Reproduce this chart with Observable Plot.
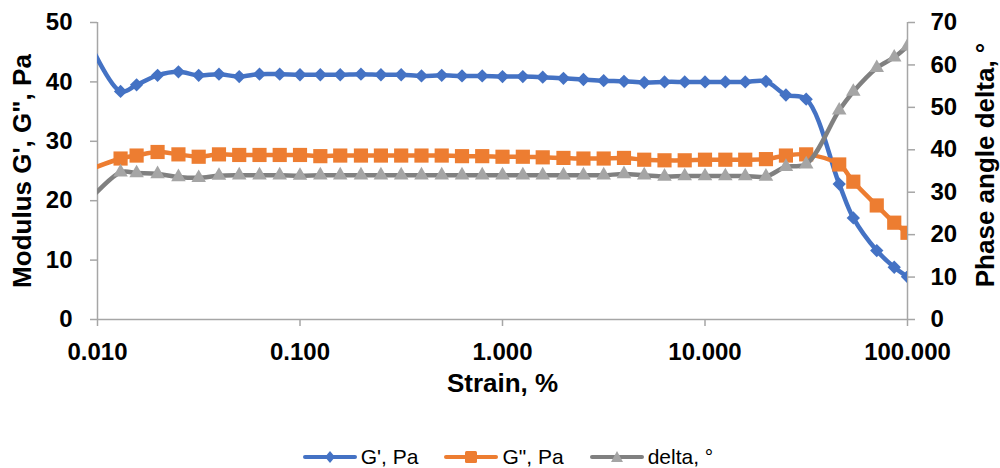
<!DOCTYPE html>
<html>
<head>
<meta charset="utf-8">
<script src="https://cdn.jsdelivr.net/npm/d3@7"></script>
<script src="https://cdn.jsdelivr.net/npm/@observablehq/plot@0.6"></script>
<style>
  html, body { margin: 0; padding: 0; background: #fff; }
  #chart { width: 1000px; height: 468px; position: relative; font-family: "Liberation Sans", Arial, sans-serif; }
  #legend { display: flex; justify-content: center; align-items: center; gap: 26px; margin-top: 35px; padding-left: 16px; font-size: 21px; color: #000; }
  .item { display: flex; align-items: center; gap: 4px; }
</style>
</head>
<body>
<div id="chart"></div>
<script>
// ---- data ----
const strain = [0.00794, 0.013, 0.0156, 0.0198, 0.0251, 0.0316, 0.0398, 0.0501, 0.0631, 0.0794,
  0.1, 0.126, 0.158, 0.2, 0.251, 0.316, 0.398, 0.501, 0.631, 0.794,
  1.0, 1.26, 1.58, 2.0, 2.51, 3.16, 3.98, 5.01, 6.31, 7.94,
  10.0, 12.6, 15.8, 20.0, 25.1, 31.6, 46.0, 54.0, 70.5, 86.0, 100];
const gPrime = [51.0, 38.4, 39.5, 41.1, 41.7, 41.1, 41.3, 40.9, 41.3, 41.3,
  41.2, 41.2, 41.2, 41.3, 41.2, 41.2, 41.0, 41.1, 41.0, 41.0,
  40.9, 40.9, 40.8, 40.6, 40.4, 40.2, 40.1, 39.9, 40.0, 40.0,
  40.0, 40.0, 40.0, 40.1, 37.8, 37.1, 22.8, 17.1, 11.6, 8.8, 7.2];
const gDoublePrime = [24.4, 27.1, 27.6, 28.2, 27.8, 27.4, 27.8, 27.7, 27.7, 27.7,
  27.7, 27.5, 27.6, 27.6, 27.6, 27.6, 27.6, 27.6, 27.5, 27.5,
  27.4, 27.4, 27.3, 27.2, 27.1, 27.1, 27.2, 26.9, 26.8, 26.8,
  26.9, 26.9, 26.9, 27.0, 27.6, 27.8, 26.1, 23.2, 19.2, 16.3, 14.6];
const delta = [25.0, 34.7, 34.5, 34.3, 33.6, 33.4, 33.9, 34.0, 34.0, 34.0,
  33.9, 34.0, 34.0, 34.0, 34.0, 34.0, 34.0, 34.0, 34.0, 34.0,
  34.0, 34.0, 34.0, 34.0, 34.0, 34.0, 34.3, 34.0, 33.7, 33.8,
  33.8, 33.8, 33.8, 33.7, 36.0, 36.6, 49.3, 53.7, 59.3, 61.8, 64.4];

const seriesNames = ["G', Pa", 'G", Pa', "delta, °"];
const xTicks = [0.01, 0.1, 1, 10, 100];
const xTickLabels = ["0.010", "0.100", "1.000", "10.000", "100.000"];
const leftTicks = [0, 10, 20, 30, 40, 50];
const rightTicks = [0, 10, 20, 30, 40, 50, 60, 70];
const xDomain = [0.01, 100];
const leftDomain = [0, 50];
const rightDomain = [0, 70];
const xTitle = "Strain, %";
const leftTitle = 'Modulus G\', G", Pa';
const rightTitle = "Phase angle delta, °";

// ---- styles ----
const colors = { gp: "#4472C4", gpp: "#ED7D31", dLine: "#808080", dMark: "#A5A5A5" };
const axisColor = "#A6A6A6";

// map right-axis values onto the left scale
const toLeft = v => v * leftDomain[1] / rightDomain[1];
const rows = strain.map((s, i) => ({ strain: s, gp: gPrime[i], gpp: gDoublePrime[i], d: toLeft(delta[i]) }));

const lineOpts = { strokeWidth: 4.5, strokeLinejoin: "round", strokeLinecap: "round", curve: "catmull-rom", clip: true };

const plot = Plot.plot({
  width: 1000,
  height: 410,
  marginLeft: 97,
  marginRight: 93,
  marginTop: 22,
  marginBottom: 91,
  style: { fontFamily: "'Liberation Sans', Arial, sans-serif", fontSize: "24px", fontWeight: "bold", color: "#000", background: "#fff", overflow: "visible" },
  x: { type: "log", domain: xDomain },
  y: { domain: leftDomain },
  marks: [
    Plot.ruleY([0], { stroke: axisColor, strokeWidth: 1.5 }),
    Plot.ruleX([xDomain[0]], { stroke: axisColor, strokeWidth: 1.5 }),
    Plot.ruleX([xDomain[1]], { stroke: axisColor, strokeWidth: 1.5 }),
    Plot.axisX({ ticks: xTicks, tickFormat: d => xTickLabels[xTicks.indexOf(d)], tickSize: 7, tickPadding: 16, stroke: axisColor, strokeWidth: 1.5, label: null, fill: "#000", fontSize: 24, fontWeight: "bold" }),
    Plot.axisY({ ticks: leftTicks, tickSize: 7, tickPadding: 18, stroke: axisColor, strokeWidth: 1.5, label: null, fill: "#000", fontSize: 24, fontWeight: "bold" }),
    Plot.axisY({ anchor: "right", ticks: rightTicks.map(toLeft), tickFormat: d => String(rightTicks[rightTicks.map(toLeft).indexOf(d)]), tickSize: 7, tickPadding: 16, stroke: axisColor, strokeWidth: 1.5, label: null, fill: "#000", fontSize: 24, fontWeight: "bold" }),
    Plot.text([xTitle], { frameAnchor: "bottom", dy: 72, textAnchor: "middle", fontSize: 26, fontWeight: "bold", fill: "#000" }),
    Plot.text([leftTitle], { frameAnchor: "left", dx: -75, rotate: -90, textAnchor: "middle", fontSize: 26, fontWeight: "bold", fill: "#000" }),
    Plot.text([rightTitle], { frameAnchor: "right", dx: 78, dy: -6, rotate: -90, textAnchor: "middle", fontSize: 26, fontWeight: "bold", fill: "#000" }),
    Plot.line(rows, { x: "strain", y: "gp", stroke: colors.gp, ...lineOpts }),
    Plot.dot(rows, { x: "strain", y: "gp", symbol: "diamond2", r: 6, fill: colors.gp, stroke: null, clip: true }),
    Plot.line(rows, { x: "strain", y: "gpp", stroke: colors.gpp, ...lineOpts }),
    Plot.dot(rows, { x: "strain", y: "gpp", symbol: "square", r: 8, fill: colors.gpp, stroke: null, clip: true }),
    Plot.line(rows, { x: "strain", y: "d", stroke: colors.dLine, ...lineOpts }),
    Plot.dot(rows, { x: "strain", y: "d", symbol: "triangle", r: 5.4, fill: colors.dMark, stroke: null, clip: true })
  ]
});

const chart = document.getElementById("chart");
chart.appendChild(plot);

// ---- legend ----
const legend = document.createElement("div");
legend.id = "legend";
const legendDefs = [
  { name: seriesNames[0], line: colors.gp, mark: colors.gp, symbol: "diamond" },
  { name: seriesNames[1], line: colors.gpp, mark: colors.gpp, symbol: "square" },
  { name: seriesNames[2], line: colors.dLine, mark: colors.dMark, symbol: "triangle" }
];
for (const def of legendDefs) {
  const item = document.createElement("div");
  item.className = "item";
  let markSvg;
  if (def.symbol === "diamond") markSvg = `<path d="M27,2 L32,8 L27,14 L22,8 Z" fill="${def.mark}"/>`;
  else if (def.symbol === "square") markSvg = `<rect x="21" y="2" width="12" height="12" rx="1.5" fill="${def.mark}"/>`;
  else markSvg = `<path d="M27,2 L33,13 L21,13 Z" fill="${def.mark}"/>`;
  item.innerHTML = `<svg width="54" height="16" viewBox="0 0 54 16"><line x1="2" y1="8" x2="52" y2="8" stroke="${def.line}" stroke-width="4" stroke-linecap="round"/>${markSvg}</svg><span>${def.name}</span>`;
  legend.appendChild(item);
}
chart.appendChild(legend);
</script>
</body>
</html>
